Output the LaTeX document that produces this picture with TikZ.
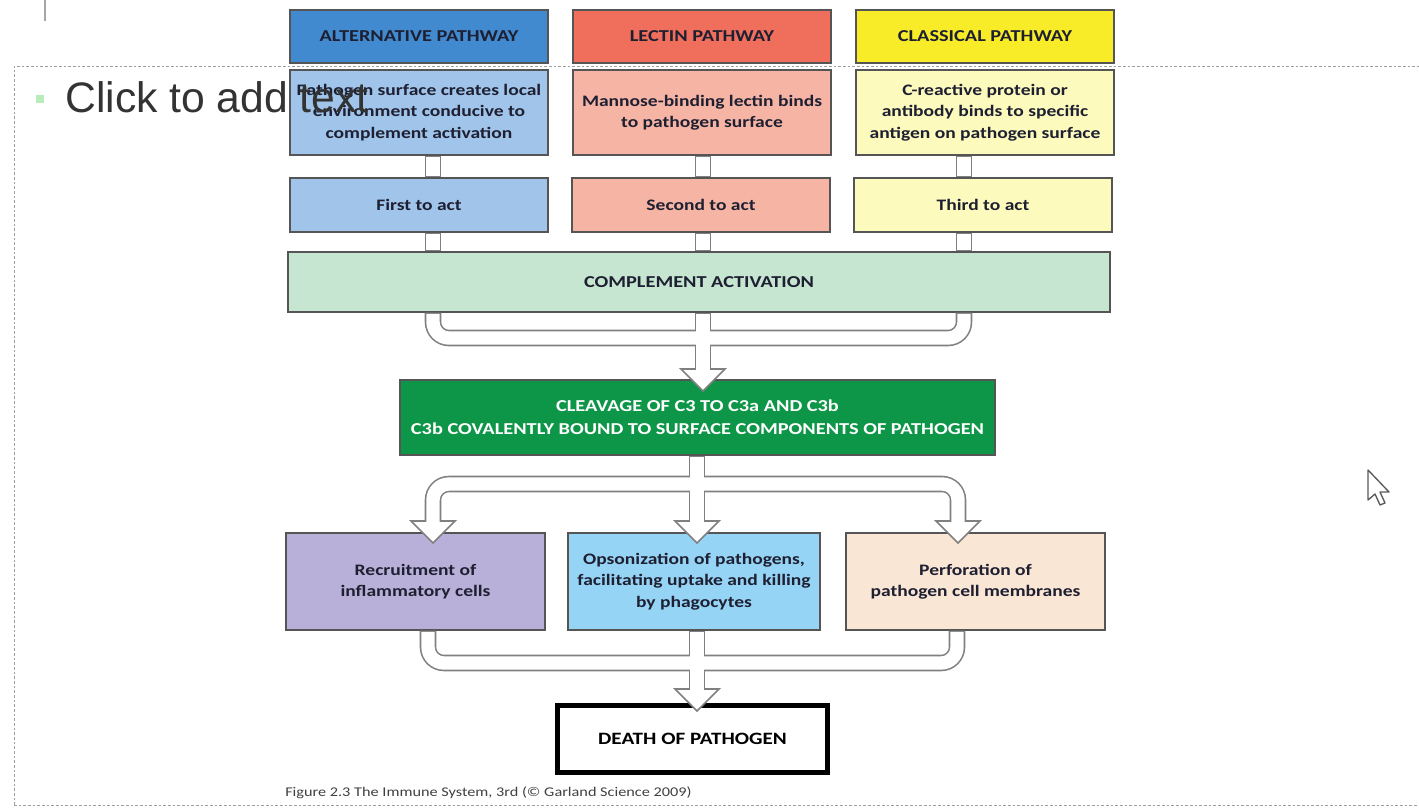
\documentclass[tikz,border=0pt]{standalone}
\usepackage{fontspec}
\setmainfont{Carlito}[FakeStretch=1.22]
\newfontfamily\slidefont{Liberation Sans}
\usetikzlibrary{calc}

\definecolor{altdark}{RGB}{66,138,208}
\definecolor{altlight}{RGB}{160,196,234}
\definecolor{lecdark}{RGB}{240,110,92}
\definecolor{leclight}{RGB}{246,180,164}
\definecolor{clsdark}{RGB}{248,236,40}
\definecolor{clslight}{RGB}{252,250,188}
\definecolor{activfill}{RGB}{198,230,210}
\definecolor{cleavefill}{RGB}{14,150,72}
\definecolor{recfill}{RGB}{184,176,216}
\definecolor{opsfill}{RGB}{150,212,246}
\definecolor{perffill}{RGB}{250,230,212}
\definecolor{boxline}{RGB}{85,85,85}
\definecolor{pipegray}{RGB}{128,128,128}
\definecolor{inktext}{RGB}{30,32,50}

\newcommand\pwfont{\fontsize{12}{16}\selectfont\bfseries}
\newcommand\capsfont{\fontsize{12.5}{17}\selectfont\bfseries}

\tikzset{
  box/.style={draw=boxline, line width=1.1pt, inner sep=0pt, align=center, text=inktext, font=\pwfont},
  headbox/.style={box, minimum width=193.5pt, minimum height=39.75pt, font=\capsfont},
  descbox/.style={box, minimum width=193.5pt, minimum height=63.75pt},
  actbox/.style={box, minimum width=193.5pt, minimum height=40.5pt},
  outbox/.style={box, minimum width=194.25pt, minimum height=72.75pt},
  pipeout/.style={draw=pipegray, line width=12.4pt},
  pipein/.style={draw=white, line width=10pt, shorten <=0.8pt, shorten >=-2pt},
  pipegap/.style={draw=white, line width=10pt, shorten <=0.8pt, shorten >=0.8pt},
  headtip/.style={draw=pipegray, fill=white, line width=1.2pt},
  frameline/.style={draw=gray!75, line width=0.6pt, dash pattern=on 2pt off 1.5pt}
}

\begin{document}
\begin{tikzpicture}[x=0.75pt,y=0.75pt,yscale=-1,xscale=1]
\useasboundingbox (0,0) rectangle (1419,810);

% slide placeholder
\draw[frameline] (14,805) -- (14,66) -- (1419,66);
\draw[frameline] (14,805) -- (1419,805);
\draw[gray!70, line width=0.8pt] (45,0) -- (45,21);

% pathways
\node[headbox, fill=altdark] (althead) at (419,36.5) {ALTERNATIVE PATHWAY};
\node[headbox, fill=lecdark] (lechead) at (702,36.5) {LECTIN PATHWAY};
\node[headbox, fill=clsdark] (clshead) at (985,36.5) {CLASSICAL PATHWAY};

\node[descbox, fill=altlight] (altdesc) at (419,112.5) {Pathogen surface creates local\\environment conducive to\\complement activation};
\node[descbox, fill=leclight] (lecdesc) at (702,112.5) {Mannose-binding lectin binds\\to pathogen surface};
\node[descbox, fill=clslight] (clsdesc) at (985,112.5) {C-reactive protein or\\antibody binds to specific\\antigen on pathogen surface};

\node[actbox, fill=altlight] (altact) at (419,205) {First to act};
\node[actbox, fill=leclight] (lecact) at (701,205) {Second to act};
\node[actbox, fill=clslight] (clsact) at (983,205) {Third to act};

\node[box, fill=activfill, minimum width=616.5pt, minimum height=45pt, font=\capsfont] (activ) at (699,282) {COMPLEMENT ACTIVATION};

\node[box, fill=cleavefill, text=white, minimum width=446.25pt, minimum height=56.25pt, font=\capsfont] (cleave) at (697.5,417.5) {CLEAVAGE OF C3 TO C3a AND C3b\\C3b COVALENTLY BOUND TO SURFACE COMPONENTS OF PATHOGEN};

% outcomes
\node[outbox, fill=recfill] (recruit) at (415.5,581.5) {Recruitment of\\inflammatory cells};
\node[outbox, fill=opsfill, minimum width=189pt] (opson) at (694,581.5) {Opsonization of pathogens,\\facilitating uptake and killing\\by phagocytes};
\node[outbox, fill=perffill] (perf) at (975.5,581.5) {Perforation of\\pathogen cell membranes};

\node[box, draw=black, line width=3.75pt, fill=white, text=black, minimum width=202pt, minimum height=50pt, font=\fontsize{13}{16}\selectfont\bfseries] (death) at (692.5,739) {DEATH OF PATHOGEN};

\node[anchor=west, inner sep=0pt, text=black!75, font=\fontsize{10}{11}\selectfont] (caption) at (285,793) {Figure 2.3 The Immune System, 3rd (© Garland Science 2009)};

% pipe columns and joins
\coordinate (colA) at (433,0);
\coordinate (colB) at (703,0);
\coordinate (colC) at (964,0);
\coordinate (joinU) at (703,338);
\coordinate (baseU) at (703,369);
\coordinate (joinL) at (697,484);
\coordinate (baseL) at (433,521);
\coordinate (baseM) at (697,521);
\coordinate (baseR) at (958,521);
\coordinate (colL2) at (428,0);
\coordinate (colR2) at (957,0);
\coordinate (joinB) at (697,663);
\coordinate (baseD) at (697,689);

% hollow arrows: outline
\path[pipeout] (altdesc.south -| colA) -- (altact.north -| colA);
\path[pipeout] (altact.south -| colA) -- (activ.north -| colA);
\path[pipeout] (lecdesc.south -| colB) -- (lecact.north -| colB);
\path[pipeout] (lecact.south -| colB) -- (activ.north -| colB);
\path[pipeout] (clsdesc.south -| colC) -- (clsact.north -| colC);
\path[pipeout] (clsact.south -| colC) -- (activ.north -| colC);
\path[pipeout, rounded corners=12pt] (activ.south -| colA) |- (joinU);
\path[pipeout, rounded corners=12pt] (activ.south -| colC) |- (joinU);
\path[pipeout] (activ.south -| colB) -- (baseU);
\path[pipeout] (cleave.south -| joinL) -- (baseM);
\path[pipeout, rounded corners=12pt] (joinL) -| (baseL);
\path[pipeout, rounded corners=12pt] (joinL) -| (baseR);
\path[pipeout, rounded corners=12pt] (recruit.south -| colL2) |- (joinB);
\path[pipeout, rounded corners=12pt] (perf.south -| colR2) |- (joinB);
\path[pipeout] (opson.south -| joinB) -- (baseD);

\foreach \b in {baseU,baseL,baseM,baseR,baseD}
  \path[headtip] ($(\b)+(-22,0)$) -- ($(\b)+(22,0)$) -- ($(\b)+(0,22)$) -- cycle;

% hollow arrows: inside
\path[pipegap] (altdesc.south -| colA) -- (altact.north -| colA);
\path[pipegap] (altact.south -| colA) -- (activ.north -| colA);
\path[pipegap] (lecdesc.south -| colB) -- (lecact.north -| colB);
\path[pipegap] (lecact.south -| colB) -- (activ.north -| colB);
\path[pipegap] (clsdesc.south -| colC) -- (clsact.north -| colC);
\path[pipegap] (clsact.south -| colC) -- (activ.north -| colC);
\path[pipein, rounded corners=12pt] (activ.south -| colA) |- (joinU);
\path[pipein, rounded corners=12pt] (activ.south -| colC) |- (joinU);
\path[pipein] (activ.south -| colB) -- (baseU);
\path[pipein] (cleave.south -| joinL) -- (baseM);
\path[pipein, rounded corners=12pt] (joinL) -| (baseL);
\path[pipein, rounded corners=12pt] (joinL) -| (baseR);
\path[pipein, rounded corners=12pt] (recruit.south -| colL2) |- (joinB);
\path[pipein, rounded corners=12pt] (perf.south -| colR2) |- (joinB);
\path[pipein] (opson.south -| joinB) -- (baseD);

% slide overlay
\node[fill=gray!45!green!35, minimum size=6pt, inner sep=0pt] (bullet) at (40,99) {};
\node[anchor=west, inner sep=0pt, text=black!80, font=\slidefont\fontsize{32}{36}\selectfont] (clicktext) at (65,97) {Click to add text};

% mouse pointer
\draw[black!65, fill=white, line width=1pt, line join=round] (1368,470) -- (1368,500) -- (1375,494) -- (1380,505) -- (1385,503) -- (1380,492) -- (1389,492) -- cycle;

\end{tikzpicture}
\end{document}
